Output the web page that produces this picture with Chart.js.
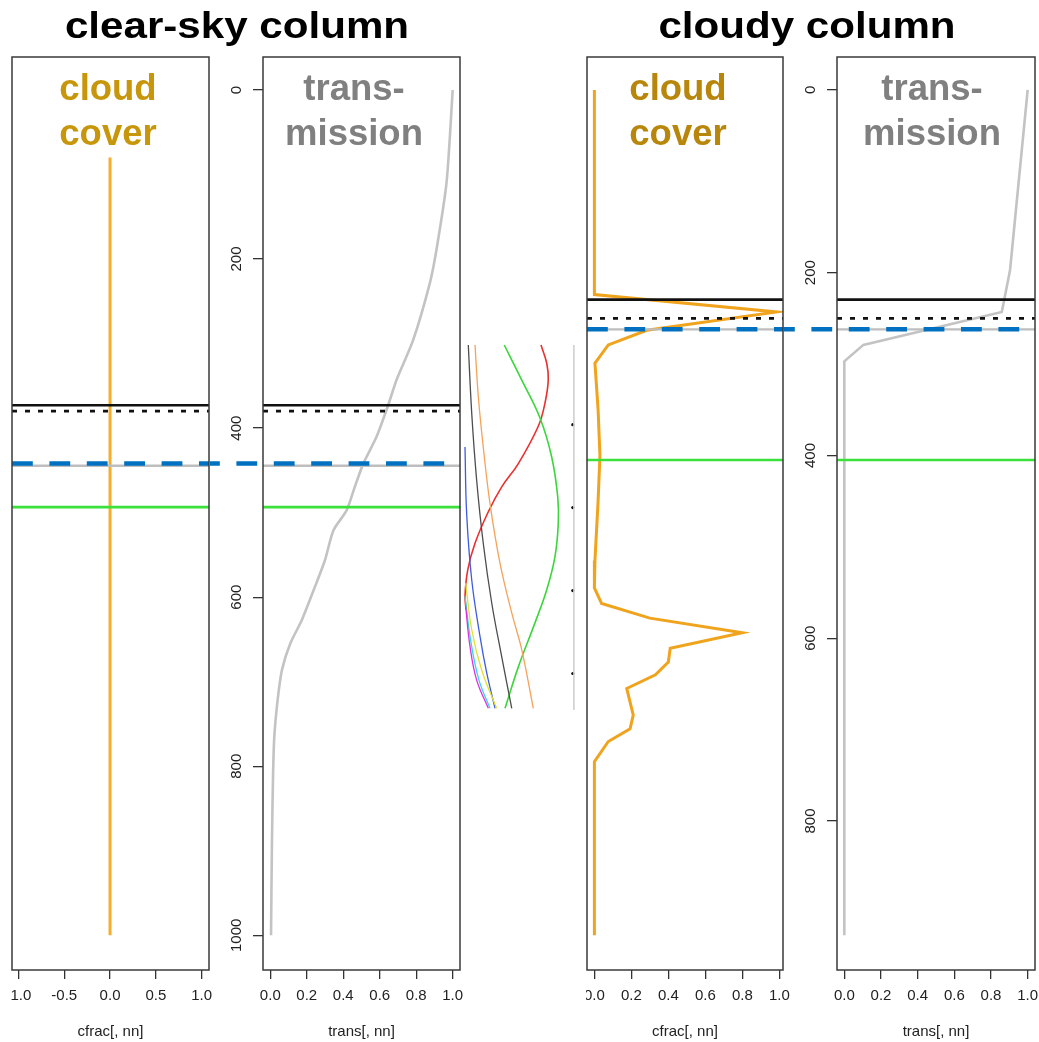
<!DOCTYPE html>
<html>
<head>
<meta charset="utf-8">
<script src="https://cdn.jsdelivr.net/npm/chart.js@4.4.1/dist/chart.umd.min.js"></script>
<style>
  html, body { margin: 0; padding: 0; background: #fff; }
  body { width: 1039px; height: 1042px; position: relative; overflow: hidden; font-family: "Liberation Sans", Arial, sans-serif; }
  canvas { position: absolute; top: 0; display: block; }
  .title { position: absolute; top: 8px; width: 400px; font-size: 36px; line-height: 36px; font-weight: bold; color: #000; text-align: center; white-space: nowrap; transform: scaleX(1.17); }
  .tag { position: absolute; top: 65px; width: 200px; font-size: 36.5px; line-height: 45px; font-weight: bold; text-align: center; white-space: nowrap; }
</style>
</head>
<body>
<canvas id="clearCfrac" width="250" height="1042" style="left:-20px; clip-path: inset(0 0 0 30.5px)"></canvas>
<canvas id="clearTrans" width="270" height="1042" style="left:210px"></canvas>
<canvas id="inset" width="135" height="395" style="left:455px; top:330px"></canvas>
<canvas id="cloudyCfrac" width="240" height="1042" style="left:560px; clip-path: inset(0 0 0 26.5px)"></canvas>
<canvas id="cloudyTrans" width="277" height="1042" style="left:783px"></canvas>

<div class="title" style="left:36.5px">clear-sky column</div>
<div class="title" style="left:606.5px">cloudy column</div>
<div class="tag" style="left:8px; color:#C8960A">cloud<br>cover</div>
<div class="tag" style="left:254px; color:#808080">trans-<br>mission</div>
<div class="tag" style="left:578px; color:#B8860B">cloud<br>cover</div>
<div class="tag" style="left:832px; color:#808080">trans-<br>mission</div>

<script>
const FONT = '"Liberation Sans", Arial, sans-serif';
Chart.defaults.font.family = FONT;

// axis ticks and their labels
const cfracTicksClear = [-1, -0.5, 0, 0.5, 1];
const cfracLabelsClear = ['-1.0', '-0.5', '0.0', '0.5', '1.0'];
const fracTicks = [0, 0.2, 0.4, 0.6, 0.8, 1];
const fracLabels = ['0.0', '0.2', '0.4', '0.6', '0.8', '1.0'];
const presTicksClear = [0, 200, 400, 600, 800, 1000];
const presTicksCloudy = [0, 200, 400, 600, 800];

// clear-sky column profiles (pressure in hPa)
const clearCfracP = [80, 1000];
const clearCfrac = [0, 0];
const clearTransP = [0, 110, 189, 229, 296, 343, 373, 410, 442, 469, 497, 521, 556, 592, 627, 655, 686, 722, 765, 812, 891, 1000];
const clearTrans = [1.0, 0.966, 0.911, 0.874, 0.783, 0.692, 0.646, 0.583, 0.51, 0.464, 0.419, 0.346, 0.30, 0.237, 0.173, 0.109, 0.064, 0.040, 0.022, 0.015, 0.009, 0.004];
// solid, dotted, green, grey, dashed
const clearLevelP = [373, 380, 493.5, 444.5, 442];

// cloudy column profiles
const cloudyCfracP = [0, 224, 243, 263, 279, 299, 350, 400, 450, 515, 545, 562, 578, 594, 611, 626, 640, 655, 684, 699, 713, 735, 925];
const cloudyCfrac = [0, 0, 0.986, 0.283, 0.075, 0.003, 0.02, 0.03, 0.02, 0.003, 0.0, 0.039, 0.30, 0.80, 0.41, 0.40, 0.33, 0.175, 0.21, 0.193, 0.075, 0.0, 0.0];
const cloudyTransP = [0, 197, 243, 279, 297, 925];
const cloudyTrans = [1.0, 0.904, 0.859, 0.104, 0.0, 0.0];
const cloudyLevelP = [229.5, 250, 405, 262, 261.8];

// small inset of weighting curves, [x, level]
const insetRed = [[0.691, 0.04], [0.743, 0.26], [0.757, 0.46], [0.727, 0.74], [0.666, 1.02], [0.485, 1.47], [0.334, 1.75], [0.212, 2.05], [0.091, 2.43], [0.025, 2.75], [0.0, 3.07], [0.009, 3.23]];
const insetGreen = [[0.357, 0.04], [0.515, 0.46], [0.682, 0.92], [0.788, 1.39], [0.843, 1.87], [0.848, 2.19], [0.818, 2.59], [0.743, 2.99], [0.636, 3.39], [0.485, 3.92], [0.364, 4.42]];
const insetOrange = [[0.091, 0.04], [0.121, 0.66], [0.166, 1.27], [0.227, 1.95], [0.318, 2.67], [0.425, 3.27], [0.515, 3.71], [0.621, 4.42]];
const insetDark = [[0.03, 0.04], [0.061, 0.86], [0.106, 1.67], [0.166, 2.43], [0.243, 3.15], [0.334, 3.80], [0.425, 4.42]];
const insetBlue = [[0.0, 1.27], [0.015, 2.07], [0.061, 2.87], [0.136, 3.55], [0.197, 3.99], [0.273, 4.42]];
const insetYellow = [[0.006, 2.91], [0.061, 3.47], [0.152, 3.96], [0.288, 4.42]];
const insetCyan = [[0.0, 3.07], [0.055, 3.63], [0.127, 4.08], [0.227, 4.42]];
const insetMagenta = [[0.006, 3.19], [0.045, 3.67], [0.106, 4.08], [0.212, 4.42]];
const insetTickLevels = [1, 2, 3, 4];

const levelStyles = [
    { color: "#111111", width: 2.6, dash: [] },
    { color: "#111111", width: 2.8, dash: [5, 8] },
    { color: "#3BE03B", width: 2.6, dash: [] },
    { color: "#BEBEBE", width: 2.4, dash: [] },
    { color: "#0070C0", width: 4.5, dash: [20.8, 16.6], acrossGap: true },
];

function pts(xs, ys) {
    return xs.map((v, i) => ({ x: v, y: ys[i] }));
}

// where each column's blue dashed line begins (page x), so the dash runs on across panels
const dashStart = {};

const profileDecor = {
    id: "profileDecor",
    afterDatasetsDraw(chart, args, opts) {
        const { ctx, chartArea: a } = chart;
        const ys = chart.scales.y;
        const pageLeft = chart.canvas.getBoundingClientRect().left;
        ctx.save();
        ctx.lineCap = "butt";
        opts.levels.forEach((p, i) => {
            const st = levelStyles[i];
            const y = ys.getPixelForValue(p);
            let x0 = a.left;
            ctx.lineDashOffset = 0;
            if (st.acrossGap) {
                if (opts.first) {
                    dashStart[opts.column] = pageLeft + a.left;
                } else {
                    x0 = 0;
                }
                ctx.lineDashOffset = pageLeft + x0 - dashStart[opts.column];
            }
            ctx.beginPath();
            ctx.lineWidth = st.width;
            ctx.strokeStyle = st.color;
            ctx.setLineDash(st.dash);
            ctx.moveTo(x0, y);
            ctx.lineTo(a.right, y);
            ctx.stroke();
        });
        ctx.setLineDash([]);

        // plot frame
        ctx.lineWidth = 1.5;
        ctx.strokeStyle = "#3a3a3a";
        ctx.strokeRect(a.left, a.top, a.right - a.left, a.bottom - a.top);

        // pressure labels, turned to run along the axis
        if (opts.yLabels) {
            ctx.fillStyle = "#222";
            ctx.font = "15px " + FONT;
            ctx.textAlign = "center";
            ctx.textBaseline = "middle";
            ys.ticks.forEach((t) => {
                ctx.save();
                ctx.translate(a.left - 26, ys.getPixelForValue(t.value));
                ctx.rotate(-Math.PI / 2);
                ctx.fillText(String(t.value), 0, 0);
                ctx.restore();
            });
        }
        ctx.restore();
    },
};

function xAxis(min, max, ticks, labels, title) {
    return {
        type: "linear",
        min: min,
        max: max,
        afterBuildTicks: (s) => { s.ticks = ticks.map((v) => ({ value: v })); },
        afterFit: (s) => { s.height = 72; },
        grid: { drawOnChartArea: false, tickLength: 9, color: "#333", lineWidth: 1.3 },
        border: { display: false },
        ticks: {
            font: { size: 15 },
            color: "#222",
            padding: 8,
            callback: (v, i) => labels[i],
        },
        title: { display: true, text: title, font: { size: 15 }, color: "#222", padding: { top: 0, bottom: 1 } },
    };
}

function yAxis(min, max, ticks, shown, width) {
    return {
        type: "linear",
        min: min,
        max: max,
        reverse: true,
        display: shown,
        afterBuildTicks: (s) => { s.ticks = ticks.map((v) => ({ value: v })); },
        afterFit: (s) => { s.width = width; },
        grid: { drawOnChartArea: false, tickLength: 10, color: "#333", lineWidth: 1.3 },
        border: { display: false },
        ticks: { display: false },
    };
}

function profileChart(id, o) {
    return new Chart(document.getElementById(id), {
        type: "scatter",
        data: {
            datasets: [
                {
                    data: o.data,
                    showLine: true,
                    borderColor: o.color,
                    borderWidth: o.width,
                    pointRadius: 0,
                    tension: o.tension || 0,
                },
            ],
        },
        options: {
            responsive: false,
            animation: false,
            events: [],
            layout: { padding: o.padding },
            scales: { x: o.x, y: o.y },
            plugins: {
                legend: { display: false },
                tooltip: { enabled: false },
                profileDecor: { levels: o.levels, column: o.column, first: o.first, yLabels: o.yLabels },
            },
        },
        plugins: [profileDecor],
    });
}

profileChart("clearCfrac", {
    data: pts(clearCfrac, clearCfracP),
    color: "#F4AE2A",
    width: 3,
    padding: { left: 32, top: 57, right: 21, bottom: 0 },
    x: xAxis(-1.07, 1.08, cfracTicksClear, cfracLabelsClear, "cfrac[, nn]"),
    y: yAxis(-39, 1041, presTicksClear, false, 0),
    levels: clearLevelP,
    column: "clear",
    first: true,
});

profileChart("clearTrans", {
    data: pts(clearTrans, clearTransP),
    color: "#C3C3C3",
    width: 2.6,
    tension: 0.25,
    padding: { left: 0, top: 57, right: 20, bottom: 0 },
    x: xAxis(-0.04, 1.04, fracTicks, fracLabels, "trans[, nn]"),
    y: yAxis(-39, 1041, presTicksClear, true, 53),
    levels: clearLevelP,
    column: "clear",
    first: false,
    yLabels: true,
});

profileChart("cloudyCfrac", {
    data: pts(cloudyCfrac, cloudyCfracP),
    color: "#F0A31C",
    width: 3,
    padding: { left: 27, top: 57, right: 17, bottom: 0 },
    x: xAxis(-0.04, 1.02, fracTicks, fracLabels, "cfrac[, nn]"),
    y: yAxis(-36, 963, presTicksCloudy, false, 0),
    levels: cloudyLevelP,
    column: "cloudy",
    first: true,
});

profileChart("cloudyTrans", {
    data: pts(cloudyTrans, cloudyTransP),
    color: "#C3C3C3",
    width: 2.6,
    padding: { left: 0, top: 57, right: 25, bottom: 0 },
    x: xAxis(-0.04, 1.04, fracTicks, fracLabels, "trans[, nn]"),
    y: yAxis(-36, 963, presTicksCloudy, true, 54),
    levels: cloudyLevelP,
    column: "cloudy",
    first: false,
    yLabels: true,
});

// inset with the curve bundle
function curve(points, color, width) {
    return {
        data: points.map((p) => ({ x: p[0], y: p[1] })),
        showLine: true,
        borderColor: color,
        borderWidth: width,
        pointRadius: 0,
        tension: 0.4,
        clip: false,
    };
}

new Chart(document.getElementById("inset"), {
    type: "scatter",
    data: {
        datasets: [
            {
                data: [{ x: 0.99, y: 0.04 }, { x: 0.99, y: 4.44 }],
                showLine: true,
                borderColor: "#CCCCCC",
                borderWidth: 1.5,
                pointRadius: 0,
            },
            {
                data: insetTickLevels.map((v) => ({ x: 0.98, y: v })),
                pointRadius: 1.6,
                backgroundColor: "#111",
                borderWidth: 0,
            },
            curve(insetMagenta, "#E02EE0", 1.3),
            curve(insetCyan, "#2EDCE6", 1.3),
            curve(insetYellow, "#E2E22E", 1.3),
            curve(insetBlue, "#3D5BE0", 1.3),
            curve(insetDark, "#4D4D4D", 1.3),
            curve(insetOrange, "#F5A25A", 1.3),
            curve(insetGreen, "#3CD63C", 1.6),
            curve(insetRed, "#E8312F", 1.6),
        ],
    },
    options: {
        responsive: false,
        animation: false,
        events: [],
        layout: { padding: { left: 10, right: 15, top: 15, bottom: 15 } },
        scales: {
            x: { display: false, min: 0, max: 1 },
            y: { display: false, min: 0.04, max: 4.44, reverse: true },
        },
        plugins: {
            legend: { display: false },
            tooltip: { enabled: false },
        },
    },
});
</script>
</body>
</html>
